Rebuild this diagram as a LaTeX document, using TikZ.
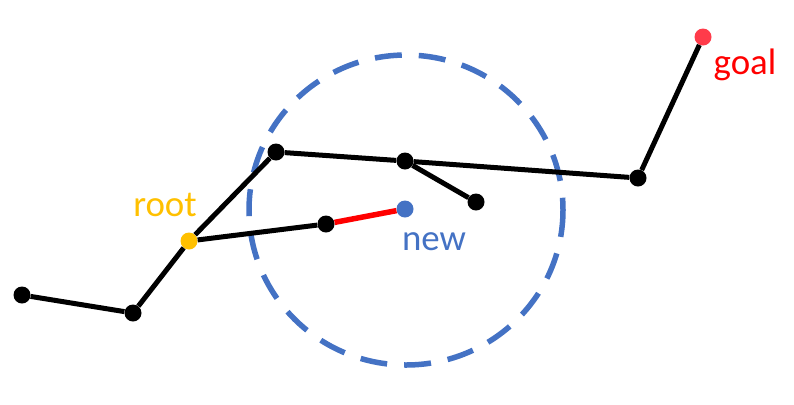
\documentclass[tikz,border=0pt]{standalone}
\usepackage{fontspec}
\setmainfont{Carlito}
\usepackage{xcolor}
\usepackage{tikz}
\usetikzlibrary{positioning}
\definecolor{rootyellow}{RGB}{255,192,0}
\definecolor{newblue}{RGB}{68,114,196}
\definecolor{goalred}{RGB}{255,59,74}
\definecolor{edgered}{RGB}{255,0,0}

\begin{document}
\begin{tikzpicture}[x=1bp,y=-1bp,
    vertex/.style={circle,fill=black,inner sep=0pt,minimum size=17bp},
    branch/.style={line width=5bp,black},
    label/.style={font=\fontsize{37}{40}\selectfont,inner sep=0pt}
]
    \useasboundingbox (0,0) rectangle (794,404);

    % Search radius around the new sample
    \draw[newblue,line width=5.5bp,dash pattern=on 27bp off 17bp] (406,210) ellipse (157 and 155);

    % Tree vertices
    \node[vertex] (v1) at (22,295) {};
    \node[vertex] (v2) at (133,313) {};
    \node[vertex,fill=rootyellow] (root) at (189,241) {};
    \node[vertex] (v3) at (276,152) {};
    \node[vertex] (v4) at (405,161) {};
    \node[vertex] (v5) at (476,202) {};
    \node[vertex] (v6) at (638,178) {};
    \node[vertex,fill=goalred] (goal) at (703,37) {};
    \node[vertex] (v7) at (326,224) {};
    \node[vertex,fill=newblue] (new) at (405,209) {};

    % Tree edges
    \draw[branch] (v1) -- (v2);
    \draw[branch] (v2) -- (root);
    \draw[branch] (root) -- (v3);
    \draw[branch] (v3) -- (v4);
    \draw[branch] (v4) -- (v6);
    \draw[branch] (v6) -- (goal);
    \draw[branch] (v4) -- (v5);
    \draw[branch] (root) -- (v7);
    \draw[line width=5.5bp,edgered] (v7) -- (new);

    % Labels
    \node[label,text=rootyellow] (rootlbl) at (165,205) {root};
    \node[label,text=newblue] (newlbl) at (434,242) {new};
    \node[label,text=edgered] (goallbl) at (745,65) {goal};
\end{tikzpicture}
\end{document}
